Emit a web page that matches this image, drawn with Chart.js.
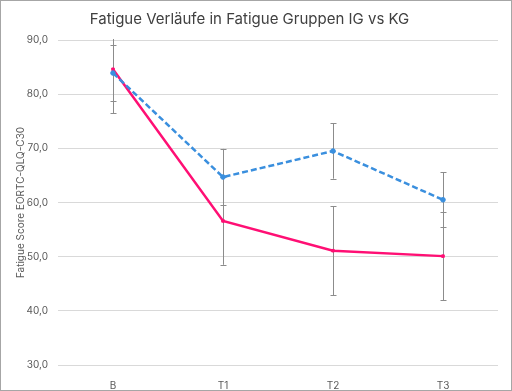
<!DOCTYPE html>
<html>
<head>
<meta charset="utf-8">
<script src="https://cdn.jsdelivr.net/npm/chart.js@4"></script>
<style>
  html, body { margin: 0; padding: 0; background: #fff; }
  #wrap {
    width: 512px; height: 391px; box-sizing: border-box;
    border: 1px solid #a6a6a6; background: #fff;
  }
  canvas { display: block; }
</style>
</head>
<body>
<div id="wrap"><canvas id="chart" width="510" height="389"></canvas></div>
<script>
const labels = ["B", "T1", "T2", "T3"];
const igMean = [83.9, 64.7, 69.5, 60.5];
const igErr = [5.1, 5.2, 5.1, 5.05];
const kgMean = [84.6, 56.6, 51.1, 50.1];
const kgErr = [8.1, 8.1, 8.2, 8.1];
const yTicks = [30, 40, 50, 60, 70, 80, 90];

const fmt = (v) => v.toFixed(1).replace(".", ",");

// draws the +/- bars behind the lines
const errorBarPlugin = {
  id: "errorBars",
  beforeDatasetsDraw(chart) {
    const ctx = chart.ctx;
    const x = chart.scales.x;
    const y = chart.scales.y;
    const area = chart.chartArea;
    ctx.save();
    ctx.beginPath();
    ctx.rect(area.left, area.top - 1, area.right - area.left, area.bottom - area.top + 2);
    ctx.clip();
    ctx.strokeStyle = "#8c8c8c";
    ctx.lineWidth = 1;
    chart.data.datasets.forEach((ds) => {
      ds.errors.forEach((e, i) => {
        const px = Math.round(x.getPixelForValue(i)) + 0.5;
        const top = y.getPixelForValue(ds.data[i] + e);
        const bot = y.getPixelForValue(ds.data[i] - e);
        ctx.beginPath();
        ctx.moveTo(px, top);
        ctx.lineTo(px, bot);
        ctx.moveTo(px - 3, Math.round(top) + 0.5);
        ctx.lineTo(px + 3, Math.round(top) + 0.5);
        ctx.moveTo(px - 3, Math.round(bot) + 0.5);
        ctx.lineTo(px + 3, Math.round(bot) + 0.5);
        ctx.stroke();
      });
    });
    ctx.restore();
  },
};

new Chart(document.getElementById("chart"), {
  type: "line",
  data: {
    labels: labels,
    datasets: [
      {
        label: "IG",
        data: igMean,
        errors: igErr,
        borderColor: "#3a8fde",
        backgroundColor: "#3a8fde",
        borderWidth: 2.5,
        borderDash: [6, 3],
        pointRadius: 2.3,
        pointBorderWidth: 1,
        pointStyle: "circle",
        tension: 0,
      },
      {
        label: "KG",
        data: kgMean,
        errors: kgErr,
        borderColor: "#ff0f74",
        backgroundColor: "#ff0f74",
        borderWidth: 2.5,
        pointRadius: 1.8,
        pointBorderWidth: 1,
        pointStyle: "rect",
        tension: 0,
      },
    ],
  },
  options: {
    responsive: false,
    animation: false,
    layout: { padding: { left: 0, right: 13, top: 0, bottom: 0 } },
    plugins: {
      legend: { display: false },
      tooltip: { enabled: false },
      title: {
        display: true,
        text: "Fatigue Verläufe in Fatigue Gruppen IG vs KG",
        color: "#404040",
        font: { family: "Inter", size: 15, weight: "normal" },
        padding: { top: 9, bottom: 12 },
      },
    },
    scales: {
      x: {
        offset: true,
        grid: { display: false },
        border: { display: false },
        ticks: {
          color: "#595959",
          font: { family: "Inter", size: 10 },
          padding: 7,
        },
        afterFit: (scale) => {
          scale.height = 25;
        },
      },
      y: {
        min: 30,
        max: 90,
        afterBuildTicks: (scale) => {
          scale.ticks = yTicks.map((v) => ({ value: v }));
        },
        grid: { color: "#d9d9d9", lineWidth: 1, drawTicks: false },
        border: { display: false },
        ticks: {
          color: "#595959",
          font: { family: "Inter", size: 10 },
          padding: 10,
          callback: (v) => fmt(v),
        },
        title: {
          display: true,
          text: "Fatigue Score EORTC-QLQ-C30",
          color: "#595959",
          font: { family: "Inter", size: 10 },
          padding: { top: 14, bottom: 0 },
        },
        afterFit: (scale) => {
          scale.width = 57;
        },
      },
    },
  },
  plugins: [errorBarPlugin],
});
</script>
</body>
</html>
